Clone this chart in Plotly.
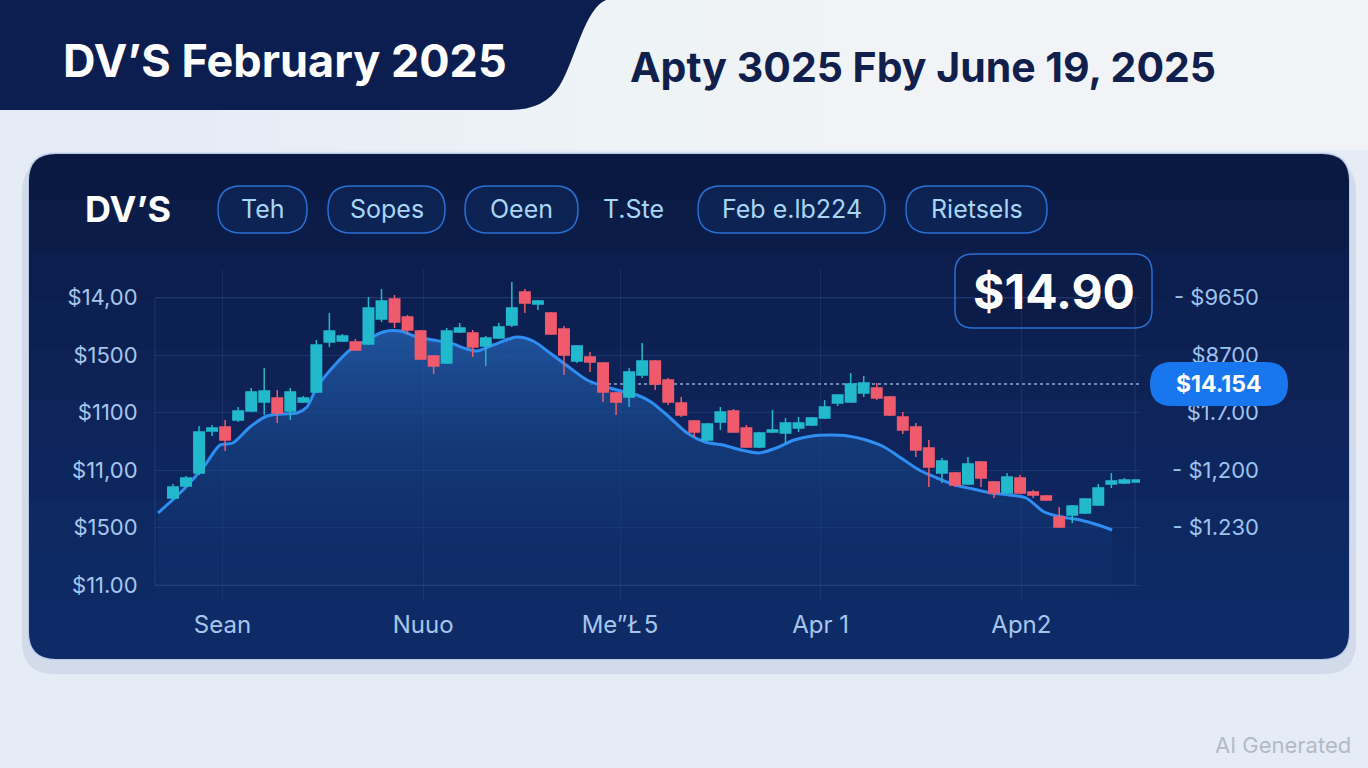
import plotly.graph_objects as go

W, H = 1368, 768

# --- données (index de séance, prix) ---
opens = [13.02, 13.14, 13.27, 13.69, 13.73, 13.80, 13.89, 13.98, 14.02, 13.89,
         13.98, 14.08, 14.58, 14.59, 14.58, 14.56, 14.81, 15.01, 14.83, 14.69,
         14.44, 14.37, 14.68, 14.67, 14.54, 14.62, 14.75, 15.08, 14.96, 14.87,
         14.71, 14.39, 14.43, 14.37, 14.07, 14.03, 14.25, 14.39, 14.20, 13.97,
         13.79, 13.60, 13.78, 13.89, 13.72, 13.53, 13.68, 13.67, 13.72, 13.75,
         13.82, 13.97, 13.98, 14.07, 14.12, 14.03, 13.83, 13.73, 13.52, 13.27,
         13.27, 13.16, 13.38, 13.18, 13.07, 13.22, 13.08, 13.04, 12.83, 12.85,
         12.87, 12.95, 13.16, 13.17, 13.18]
closes = [13.13, 13.22, 13.68, 13.72, 13.60, 13.89, 14.08, 14.09, 13.87, 14.08,
          14.02, 14.55, 14.69, 14.64, 14.50, 14.92, 14.99, 14.78, 14.70, 14.41,
          14.34, 14.69, 14.72, 14.53, 14.62, 14.73, 14.92, 14.97, 14.99, 14.66,
          14.45, 14.54, 14.38, 14.08, 13.98, 14.28, 14.39, 14.16, 13.98, 13.85,
          13.68, 13.76, 13.88, 13.68, 13.53, 13.67, 13.70, 13.77, 13.77, 13.82,
          13.93, 14.05, 14.16, 14.17, 14.02, 13.85, 13.70, 13.50, 13.33, 13.39,
          13.15, 13.36, 13.22, 13.07, 13.23, 13.07, 13.05, 13.00, 12.73, 12.94,
          13.01, 13.12, 13.19, 13.20, 13.20]
highs = [13.16, 13.24, 13.74, 13.75, 13.80, 13.93, 14.12, 14.32, 14.10, 14.12,
         14.04, 14.60, 14.87, 14.66, 14.61, 15.03, 15.11, 15.05, 14.85, 14.70,
         14.45, 14.72, 14.77, 14.70, 14.64, 14.77, 15.18, 15.11, 15.00, 14.88,
         14.74, 14.55, 14.48, 14.38, 14.08, 14.32, 14.57, 14.40, 14.22, 14.03,
         13.80, 13.77, 13.93, 13.91, 13.75, 13.68, 13.90, 13.82, 13.83, 13.83,
         14.00, 14.06, 14.27, 14.24, 14.17, 14.04, 13.88, 13.77, 13.60, 13.42,
         13.28, 13.43, 13.39, 13.19, 13.27, 13.25, 13.10, 13.05, 12.93, 12.95,
         13.02, 13.16, 13.27, 13.22, 13.20]
lows = [13.00, 13.13, 13.25, 13.64, 13.49, 13.78, 13.88, 13.85, 13.77, 13.80,
        13.97, 14.07, 14.53, 14.58, 14.49, 14.55, 14.78, 14.72, 14.65, 14.40,
        14.26, 14.36, 14.67, 14.43, 14.34, 14.61, 14.73, 14.87, 14.90, 14.65,
        14.25, 14.37, 14.28, 13.98, 13.85, 13.93, 14.22, 14.10, 13.95, 13.83,
        13.63, 13.59, 13.70, 13.67, 13.52, 13.52, 13.67, 13.57, 13.68, 13.74,
        13.81, 13.94, 13.97, 14.03, 14.00, 13.84, 13.66, 13.43, 13.13, 13.17,
        13.13, 13.15, 13.13, 13.02, 13.06, 13.06, 13.02, 12.99, 12.72, 12.77,
        12.86, 12.94, 13.12, 13.16, 13.18]
seances = list(range(len(opens)))

# moyenne mobile lissée (courbe bleue)
mm_x = [-1.15, 0.77, 2.46, 3.61, 4.60, 5.91, 7.21, 8.44, 9.52, 10.28,
        11.05, 12.28, 13.58, 14.89, 16.12, 17.42, 18.73, 19.95, 21.26, 22.56,
        23.33, 24.56, 26.40, 27.63, 28.93, 30.47, 31.77, 32.77, 34.07, 35.61,
        36.68, 38.07, 39.45, 40.83, 42.21, 43.59, 44.97, 46.28, 47.66, 49.04,
        50.42, 51.80, 53.18, 54.57, 55.87, 57.25, 58.63, 60.02, 61.40, 62.78,
        64.16, 65.46, 66.85, 68.23, 69.61, 70.99, 72.06]
mm_y = [12.87, 13.10, 13.35, 13.55, 13.57, 13.73, 13.84, 13.86, 13.87, 13.93,
        14.13, 14.33, 14.50, 14.60, 14.68, 14.69, 14.63, 14.60, 14.57, 14.51,
        14.49, 14.55, 14.63, 14.59, 14.47, 14.32, 14.20, 14.15, 14.10, 14.05,
        13.98, 13.83, 13.67, 13.58, 13.55, 13.50, 13.47, 13.52, 13.60, 13.64,
        13.65, 13.64, 13.60, 13.53, 13.42, 13.30, 13.22, 13.15, 13.11, 13.07,
        13.05, 13.02, 12.88, 12.83, 12.80, 12.75, 12.70]

prix_repere = 14.16  # ligne pointillée
# axe gauche
y_ticks = [12.15, 12.725, 13.30, 13.875, 14.45, 15.025]
y_labels = ["$11.00", "$1500", "$11,00", "$1100", "$1500", "$14,00"]
# axe droit
y2_ticks = [12.725, 13.30, 13.875, 14.45, 15.025]
y2_labels = ["- $1.230", "- $1,200", "$1.7.00", "$8700", "- $9650"]
# axe des x
x_ticks = [3.8, 19.2, 34.3, 49.7, 65.1]
x_labels = ["Sean", "Nuuo", "Me\u201d\u0141\u200a5", "Apr 1", "Apn2"]

onglets = ["Teh", "Sopes", "Oeen", "Feb e.lb224", "Rietsels"]
onglets_x = [(218, 307), (328, 445), (465, 578), (698, 885), (906, 1047)]

CYAN = "#22b9cd"
ROUGE = "#ef5b6c"
TEXTE_AXE = "#a6c6ea"


def px(x):
    return x / W


def py(y):
    return 1 - y / H


def rrect(x0, y0, x1, y1, rt, rb=None):
    """chemin d'un rectangle arrondi, coordonnées en pixels -> papier"""
    if rb is None:
        rb = rt
    return " ".join([
        f"M{px(x0 + rt)},{py(y0)}", f"L{px(x1 - rt)},{py(y0)}",
        f"Q{px(x1)},{py(y0)} {px(x1)},{py(y0 + rt)}",
        f"L{px(x1)},{py(y1 - rb)}",
        f"Q{px(x1)},{py(y1)} {px(x1 - rb)},{py(y1)}",
        f"L{px(x0 + rb)},{py(y1)}",
        f"Q{px(x0)},{py(y1)} {px(x0)},{py(y1 - rb)}",
        f"L{px(x0)},{py(y0 + rt)}",
        f"Q{px(x0)},{py(y0)} {px(x0 + rt)},{py(y0)}", "Z"])


def forme(path, fill, line="rgba(0,0,0,0)", width=0, layer="below"):
    return dict(type="path", path=path, xref="paper", yref="paper", fillcolor=fill,
                line=dict(color=line, width=width), layer=layer)


fig = go.Figure()

# aire sous la moyenne mobile (sous-graphe de base)
fig.add_trace(go.Scatter(
    x=mm_x, y=mm_y, mode="lines", line=dict(color="#2f8ef2", width=3, shape="spline", smoothing=0.8),
    fill="tozeroy",
    fillgradient=dict(type="vertical", start=12.0, stop=14.7,
                      colorscale=[[0, "rgba(14,48,105,0.15)"], [1, "rgba(34,92,170,0.85)"]]),
    hoverinfo="skip", showlegend=False))

# bougies sur l'axe superposé, donc dessinées par-dessus l'aire
fig.add_trace(go.Candlestick(
    x=seances, open=opens, high=highs, low=lows, close=closes, yaxis="y2",
    increasing=dict(line=dict(color=CYAN, width=1.5), fillcolor=CYAN),
    decreasing=dict(line=dict(color=ROUGE, width=1.5), fillcolor=ROUGE),
    showlegend=False))

shapes = []
# fond plus clair en haut à droite (dégradé en paliers fins)
for k in range(12):
    shapes.append(forme(rrect(220 + k * 60, 0, W, 150, 0, 0), "rgba(255,255,255,0.075)"))
shapes += [
    forme(rrect(22, 160, 1356, 674, 32), "rgba(110,130,175,0.16)"),
    forme(rrect(28, 153, 1350, 660, 28), "#0a1942"),
]
for k in range(9):
    shapes.append(forme(rrect(28, 200 + k * 50, 1350, 660, 0, 28), "rgba(24,70,148,0.075)"))
shapes.append(forme(rrect(28, 153, 1350, 660, 28), "rgba(0,0,0,0)", "rgba(205,218,242,0.9)", 2))

# bandeau sombre du titre
shapes.append(forme(
    f"M{px(0)},{py(0)} L{px(606)},{py(0)} C{px(585)},{py(8)} {px(575)},{py(60)} {px(560)},{py(85)} "
    f"Q{px(545)},{py(110)} {px(510)},{py(110)} L{px(0)},{py(110)} Z", "#0c1e50"))

for (a, b) in onglets_x:
    shapes.append(forme(rrect(a, 186, b, 233, 23), "rgba(14,38,88,0.7)", "#2a6fd2", 1.5))

shapes.append(forme(rrect(955, 254, 1152, 328, 18), "#0b1c48", "#2a6fd2", 1.5))
# cadre du graphique
shapes.append(dict(type="rect", xref="paper", yref="paper", x0=px(155), x1=px(1135), y0=py(585), y1=py(298),
                   line=dict(color="rgba(90,130,200,0.22)", width=1), layer="below"))
# ligne pointillée du prix repère
shapes.append(dict(type="line", xref="x", yref="y", x0=32, x1=74.2, y0=prix_repere, y1=prix_repere,
                   line=dict(color="rgba(190,215,250,0.75)", width=1.5, dash="dot"), layer="below"))
# pastille du prix
shapes.append(forme(rrect(1150, 362, 1288, 406, 22), "#1877ee", layer="above"))

annotations = [
    dict(text="<b>DV\u2019S February 2025</b>", x=px(285), y=py(60), font=dict(size=45, color="white")),
    dict(text="<b>Apty 3025 Fby June 19, 2025</b>", x=px(923), y=py(67), font=dict(size=41, color="#101f4b")),
    dict(text="<b>DV\u2019S</b>", x=px(128), y=py(209), font=dict(size=36, color="white")),
    dict(text="T.Ste", x=px(633), y=py(209), font=dict(size=25, color="#a9d6f5")),
    dict(text="<b>$14.90</b>", x=px(1054), y=py(291), font=dict(size=48, color="white")),
    dict(text="<b>$14.154</b>", x=px(1219), y=py(384), font=dict(size=23, color="white")),
    dict(text="AI Generated", x=px(1283), y=py(745), font=dict(size=22, color="#b3bac6")),
]
for nom, (a, b) in zip(onglets, onglets_x):
    annotations.append(dict(text=nom, x=px((a + b) / 2), y=py(209), font=dict(size=25, color="#a9d6f5")))
for an in annotations:
    an.update(xref="paper", yref="paper", showarrow=False, xanchor="center", yanchor="middle")

fig.update_layout(
    width=W, height=H, margin=dict(l=0, r=0, t=0, b=0),
    paper_bgcolor="#e6ecf6", plot_bgcolor="rgba(0,0,0,0)",
    font=dict(family="Inter, Roboto, sans-serif", color=TEXTE_AXE),
    shapes=shapes, annotations=annotations, boxgap=0.2, boxgroupgap=0,
    xaxis=dict(domain=[px(155), px(1140)], range=[-1.38, 74.2], rangeslider=dict(visible=False),
               tickvals=x_ticks, ticktext=x_labels, tickfont=dict(size=24, color=TEXTE_AXE),
               showgrid=True, gridcolor="rgba(90,130,200,0.16)", zeroline=False,
               ticks="outside", ticklen=3, tickcolor="rgba(0,0,0,0)", automargin=False),
    yaxis=dict(domain=[py(600), py(270)], range=[12.0, 15.3],
               tickvals=y_ticks, ticktext=y_labels, tickfont=dict(size=22, color=TEXTE_AXE),
               showgrid=True, gridcolor="rgba(90,130,200,0.18)", zeroline=False,
               ticks="outside", ticklen=12, tickcolor="rgba(0,0,0,0)", automargin=False),
    yaxis2=dict(overlaying="y", anchor="free", side="right", position=px(1262), range=[12.0, 15.3],
                tickvals=y2_ticks, ticktext=y2_labels, tickfont=dict(size=22, color="#9cc3ee"),
                ticklabelposition="inside", showgrid=False, zeroline=False, showline=False,
                ticks="", automargin=False),
)

fig.write_html("out.html", config={"displayModeBar": False},
               post_script="document.body.style.margin='0';document.body.style.overflow='hidden';")
